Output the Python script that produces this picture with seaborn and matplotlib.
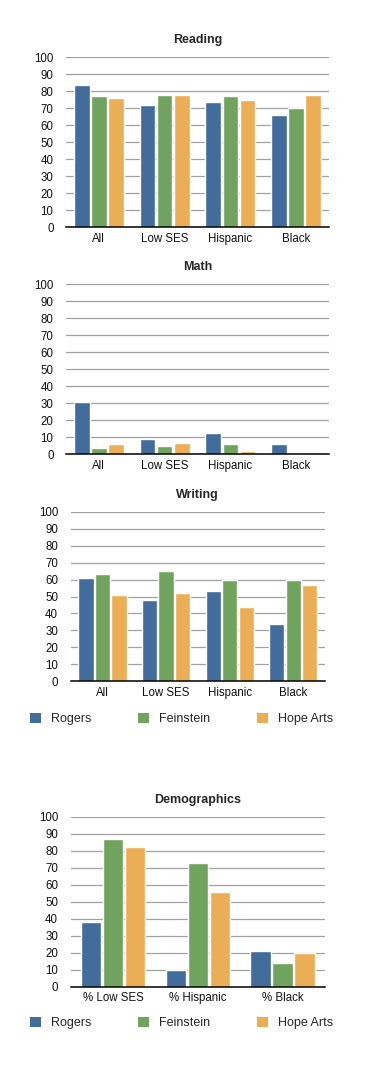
import matplotlib
matplotlib.use("Agg")
import matplotlib.pyplot as plt
from matplotlib.patches import Patch
import pandas as pd
import numpy as np
import seaborn as sns

schools = ["Rogers", "Feinstein", "Hope Arts"]
colors = ["#416c9c", "#6fa35e", "#ebae55"]

groups = ["All", "Low SES", "Hispanic", "Black"]
reading_rogers = [84, 72, 74, 66]
reading_feinstein = [77, 78, 77, 70]
reading_hope = [76, 78, 75, 78]

math_rogers = [31, 9, 12.5, 6]
math_feinstein = [4, 5, 6, 0]
math_hope = [6, 6.5, 2, 0]

writing_rogers = [61, 48, 53, 34]
writing_feinstein = [63, 65, 60, 60]
writing_hope = [51, 52, 44, 57]

demo_groups = ["% Low SES", "% Hispanic", "% Black"]
demo_rogers = [38, 10, 21]
demo_feinstein = [87, 73, 14]
demo_hope = [82, 56, 20]

sns.set_style("white")
plt.rcParams["font.family"] = ["Liberation Sans", "DejaVu Sans"]

W, H = 372, 1065
fig = plt.figure(figsize=(W / 100, H / 100), dpi=100)


def box(l, r, t, b):
    return [l / W, 1 - b / H, (r - l) / W, (b - t) / H]


def draw(rect, title, cats, rogers, fein, hope, gap):
    ax = fig.add_axes(rect)
    df = pd.DataFrame({
        "group": cats * 3,
        "school": np.repeat(schools, len(cats)),
        "score": rogers + fein + hope,
    })
    sns.barplot(data=df, x="group", y="score", hue="school", palette=colors,
                width=0.78, gap=gap, saturation=1, legend=False, ax=ax)
    ax.set_ylim(0, 100)
    ax.set_yticks(range(0, 101, 10))
    ax.set_xlim(-0.5, len(cats) - 0.5)
    ax.set_axisbelow(True)
    ax.yaxis.grid(True, color="#a0a0a0", lw=0.9)
    for s in ["left", "top", "right"]:
        ax.spines[s].set_visible(False)
    ax.spines["bottom"].set_color("black")
    ax.spines["bottom"].set_linewidth(1.1)
    ax.tick_params(axis="y", length=0, pad=9, labelsize=8.3, labelcolor="#111111")
    ax.tick_params(axis="x", length=0, pad=4, labelsize=8.3, labelcolor="#111111")
    ax.set_xlabel("")
    ax.set_ylabel("")
    ax.set_title(title, fontsize=9, fontweight="bold", pad=10)
    return ax


def legend(y):
    handles = [Patch(facecolor=c, edgecolor="none", label=s) for s, c in zip(schools, colors)]
    fig.legend(handles=handles, loc="center left", bbox_to_anchor=(30 / W, 1 - y / H),
               ncol=3, frameon=False, fontsize=9, borderpad=0, borderaxespad=0,
               handlelength=0.9, handleheight=0.9, handletextpad=0.8, columnspacing=3.7)


draw(box(66, 329, 57.3, 227.3), "Reading", groups,
     reading_rogers, reading_feinstein, reading_hope, 0.08)
draw(box(66, 329, 284.3, 454.3), "Math", groups,
     math_rogers, math_feinstein, math_hope, 0.08)
draw(box(70.7, 325, 511.7, 681.3), "Writing", groups,
     writing_rogers, writing_feinstein, writing_hope, 0.08)
legend(719)
draw(box(70.7, 325, 816.7, 986.7), "Demographics", demo_groups,
     demo_rogers, demo_feinstein, demo_hope, 0.07)
legend(1023)

fig.savefig("out.png", dpi=100)
